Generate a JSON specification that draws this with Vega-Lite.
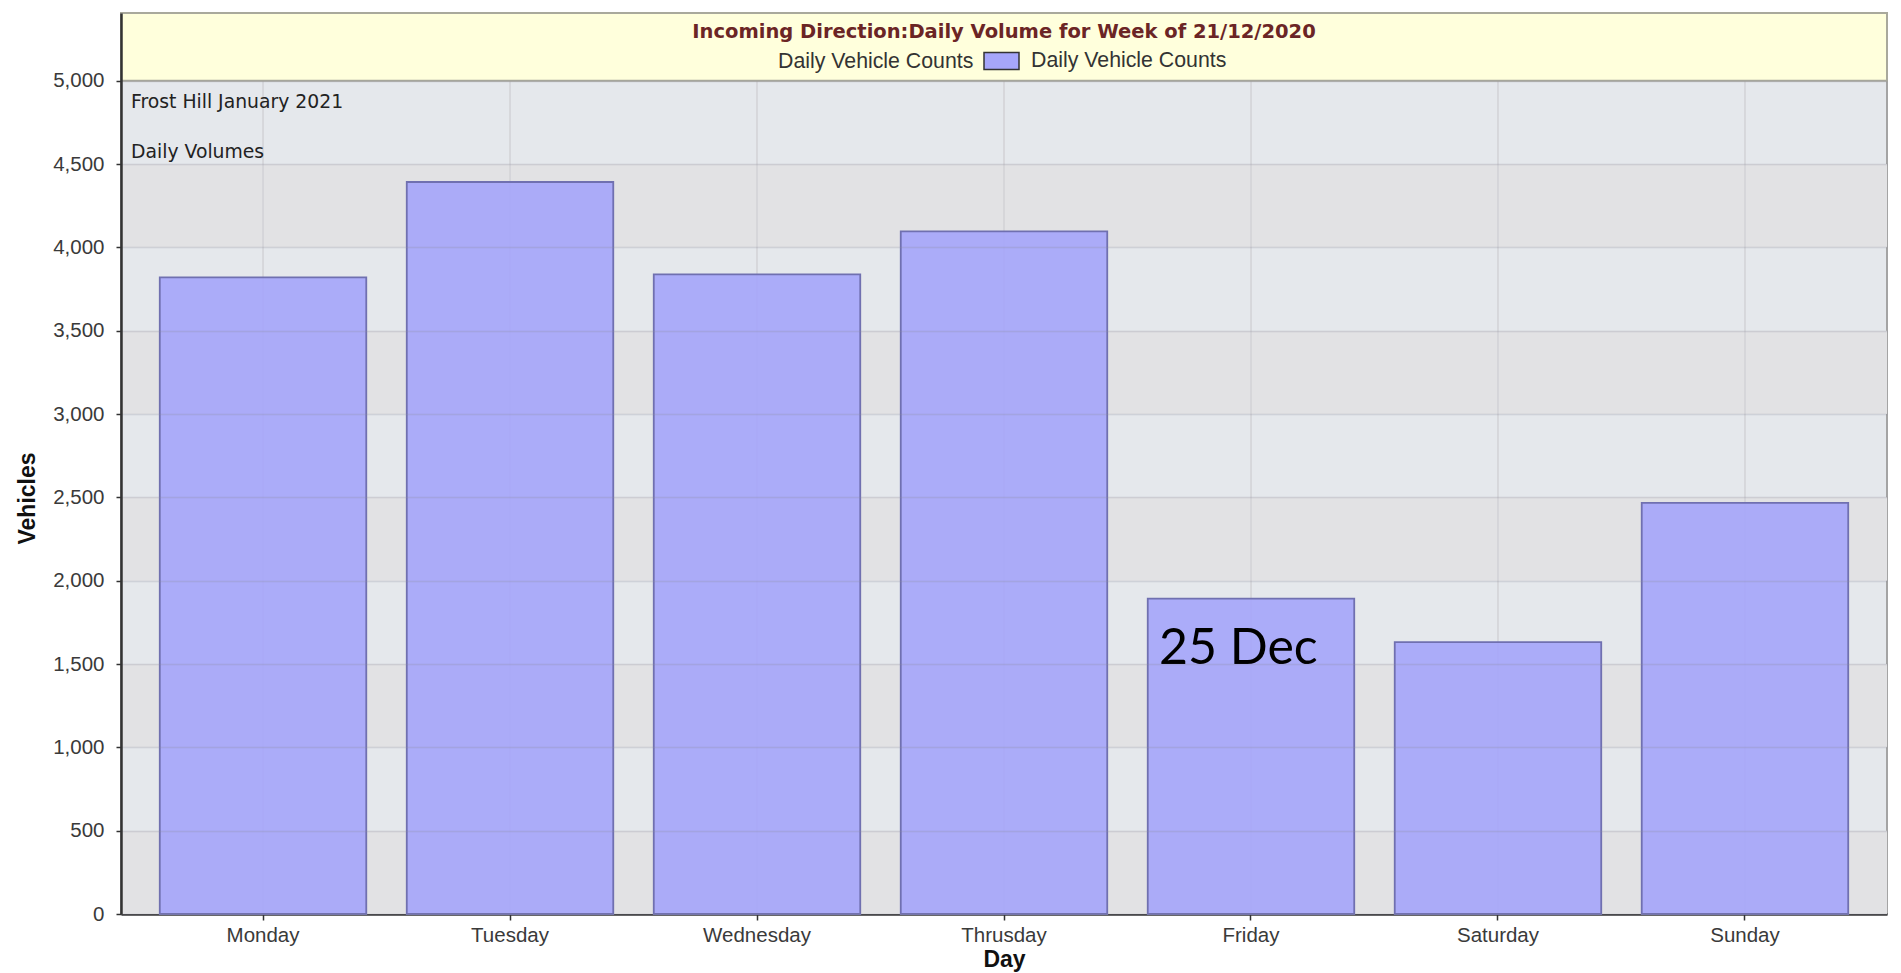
{
  "$schema": "https://vega.github.io/schema/vega-lite/v6.json",
  "width": 1766,
  "height": 901,
  "autosize": {"type": "none"},
  "padding": {"left": 121, "top": 13, "right": 14, "bottom": 59},
  "background": "white",
  "view": {"fill": "#e5e8ec", "stroke": "#a4a4a4", "strokeWidth": 2},
  "datasets": {
    "counts": [
      {"day": "Monday", "vehicles": 3820},
      {"day": "Tuesday", "vehicles": 4392},
      {"day": "Wednesday", "vehicles": 3838},
      {"day": "Thrusday", "vehicles": 4096},
      {"day": "Friday", "vehicles": 1892},
      {"day": "Saturday", "vehicles": 1631},
      {"day": "Sunday", "vehicles": 2467}
    ],
    "stripes": [
      {"lo": 0, "hi": 500},
      {"lo": 1000, "hi": 1500},
      {"lo": 2000, "hi": 2500},
      {"lo": 3000, "hi": 3500},
      {"lo": 4000, "hi": 4500}
    ]
  },
  "data": {"name": "counts"},
  "layer": [
    {
      "data": {"name": "stripes"},
      "mark": {"type": "rect", "fill": "#e2e2e4"},
      "encoding": {
        "y": {
          "field": "lo",
          "type": "quantitative",
          "scale": {"domain": [0, 5406], "nice": false, "zero": true},
          "axis": {
            "title": "Vehicles",
            "values": [0, 500, 1000, 1500, 2000, 2500, 3000, 3500, 4000, 4500, 5000],
            "format": ",.0f",
            "labelFont": "Liberation Sans",
            "labelFontSize": 20.5,
            "labelColor": "#3a3a3a",
            "labelPadding": 12,
            "tickSize": 5,
            "tickColor": "#333",
            "tickWidth": 1.5,
            "domainColor": "#333",
            "domainWidth": 2.5,
            "grid": true,
            "gridColor": "#8a8a9a",
            "gridOpacity": 0.25,
            "gridWidth": 1.5,
            "zindex": 1,
            "titleFont": "Liberation Sans",
            "titleFontSize": 23,
            "titleFontWeight": "bold",
            "titleColor": "#111",
            "titleX": -94,
            "titleY": 485,
            "titleAlign": "center",
            "titleBaseline": "middle"
          }
        },
        "y2": {"field": "hi"}
      }
    },
    {
      "mark": {"type": "rule", "color": "#d2d2d6", "strokeWidth": 1.5},
      "encoding": {
        "x": {
          "field": "day",
          "type": "nominal",
          "scale": {
            "domain": ["Monday", "Tuesday", "Wednesday", "Thrusday", "Friday", "Saturday", "Sunday"],
            "paddingInner": 0.164,
            "paddingOuter": 0.157
          },
          "axis": {
            "title": "Day",
            "labelAngle": 0,
            "labelFont": "Liberation Sans",
            "labelFontSize": 20.5,
            "labelColor": "#3a3a3a",
            "labelPadding": 5,
            "tickSize": 6,
            "tickColor": "#333",
            "tickWidth": 1.5,
            "domainColor": "#333",
            "domainWidth": 2.5,
            "grid": false,
            "titleFont": "Liberation Sans",
            "titleFontSize": 23,
            "titleFontWeight": "bold",
            "titleColor": "#111",
            "titlePadding": 3
          }
        },
        "y": {"datum": 0, "scale": {"domain": [0, 5406], "nice": false, "zero": true}},
        "y2": {"datum": 5000}
      }
    },
    {
      "data": {"values": [{}]},
      "mark": {"type": "rect", "fill": "#ffffdc", "stroke": "#a9a99c", "strokeWidth": 2},
      "encoding": {
        "y": {"datum": 5000, "scale": {"domain": [0, 5406], "nice": false, "zero": true}},
        "y2": {"datum": 5406}
      }
    },
    {
      "data": {"values": [{}]},
      "mark": {"type": "text", "text": "Incoming Direction:Daily Volume for Week of 21/12/2020", "align": "center", "baseline": "middle", "font": "DejaVu Sans", "fontSize": 19.5, "fontWeight": "bold", "color": "#6b2525"},
      "encoding": {
        "y": {"datum": 5295}
      }
    },
    {
      "mark": {"type": "bar", "fillOpacity": 0.92, "stroke": "#7070b0", "strokeWidth": 1.8},
      "encoding": {
        "x": {"field": "day", "type": "nominal"},
        "y": {"field": "vehicles", "type": "quantitative", "scale": {"domain": [0, 5406], "nice": false, "zero": true}},
        "color": {
          "datum": "Daily Vehicle Counts",
          "type": "nominal",
          "scale": {"range": ["#a6a6fa"]},
          "legend": {
            "title": "Daily Vehicle Counts",
            "titleOrient": "left",
            "titleAnchor": "middle",
            "orient": "none",
            "legendX": 657,
            "legendY": 29.5,
            "direction": "horizontal",
            "symbolType": "M-1,-0.49L1,-0.49L1,0.49L-1,0.49Z",
            "symbolSize": 1225,
            "symbolStrokeColor": "#333",
            "symbolStrokeWidth": 1.5,
            "symbolFillColor": "#a6a6fa",
            "symbolOpacity": 1,
            "labelFont": "Liberation Sans",
            "labelFontSize": 21.3,
            "labelColor": "#333",
            "labelOffset": 11,
            "labelLimit": 400,
            "titleLimit": 400,
            "titleFont": "Liberation Sans",
            "titleFontSize": 21.3,
            "titleFontWeight": "normal",
            "titleColor": "#333",
            "titlePadding": 9,
            "titleBaseline": "line-top",
            "titleLineHeight": 7.2
          }
        }
      }
    },
    {
      "data": {"values": [{}]},
      "mark": {"type": "text", "text": "Frost Hill January 2021", "align": "left", "baseline": "middle", "font": "DejaVu Sans", "fontSize": 18.8, "color": "#222", "dx": -132},
      "encoding": {
        "x": {"datum": "Monday"},
        "y": {"datum": 4873}
      }
    },
    {
      "data": {"values": [{}]},
      "mark": {"type": "text", "text": "Daily Volumes", "align": "left", "baseline": "middle", "font": "DejaVu Sans", "fontSize": 18.8, "color": "#222", "dx": -132},
      "encoding": {
        "x": {"datum": "Monday"},
        "y": {"datum": 4575}
      }
    },
    {
      "data": {"values": [{}]},
      "mark": {"type": "text", "text": "25 Dec", "align": "left", "baseline": "middle", "font": "Lato", "fontSize": 50, "color": "#000", "dx": -92},
      "encoding": {
        "x": {"datum": "Friday"},
        "y": {"datum": 1592}
      }
    }
  ]
}
